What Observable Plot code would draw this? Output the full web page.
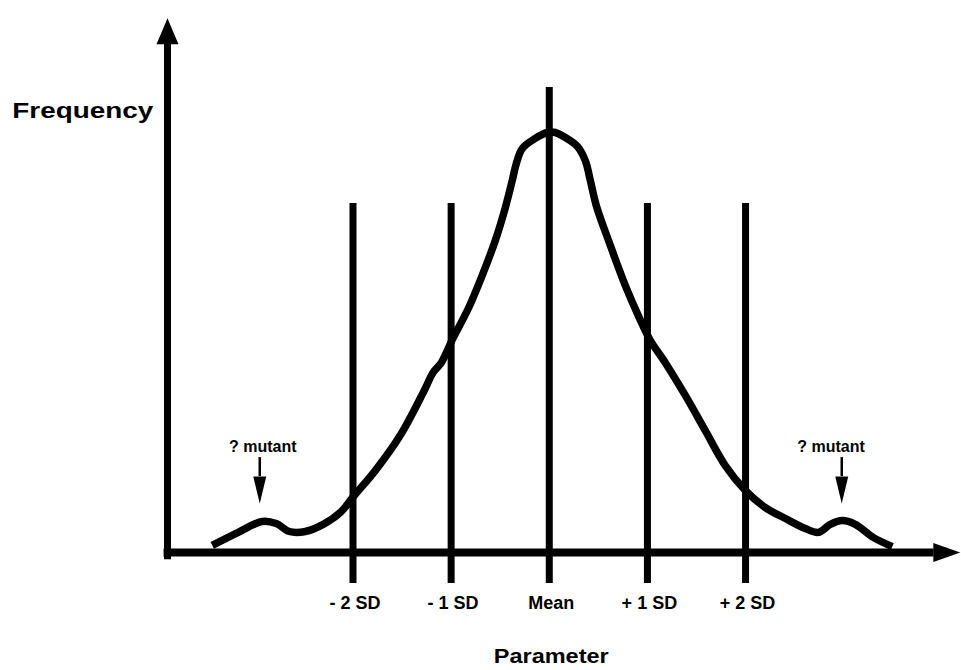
<!DOCTYPE html>
<html>
<head>
<meta charset="utf-8">
<script src="https://cdn.jsdelivr.net/npm/d3@7"></script>
<script src="https://cdn.jsdelivr.net/npm/@observablehq/plot@0.6"></script>
<style>
  html, body { margin: 0; padding: 0; background: #fff; }
  svg { display: block; }
</style>
</head>
<body>
<div id="chart"></div>
<script>
// ---- data ----
const sdPositions = [-2, -1, 0, 1, 2];
const sdLabels = ["- 2 SD", "- 1 SD", "Mean", "+ 1 SD", "+ 2 SD"];
const sdLineTops = [0.831, 0.831, 1.107, 0.831, 0.831];

const curveX = [-3.434, -3.169, -2.924, -2.782, -2.649, -2.486, -2.303, -2.130, -1.997, -1.773,
  -1.518, -1.284, -1.182, -1.100, -0.988, -0.825, -0.683, -0.550, -0.448, -0.377,
  -0.336, -0.275, -0.143, -0.020, 0.061, 0.163, 0.285, 0.367, 0.418, 0.479,
  0.622, 0.774, 0.907, 1.029, 1.182, 1.386, 1.590, 1.793, 1.997, 2.201,
  2.405, 2.609, 2.741, 2.864, 2.986, 3.118, 3.301, 3.495];
const curveY = [0.017, 0.048, 0.074, 0.069, 0.050, 0.050, 0.067, 0.095, 0.133, 0.195,
  0.279, 0.381, 0.429, 0.452, 0.507, 0.581, 0.660, 0.743, 0.821, 0.886,
  0.926, 0.962, 0.986, 1.000, 1.000, 0.988, 0.967, 0.933, 0.886, 0.826,
  0.731, 0.636, 0.564, 0.505, 0.452, 0.374, 0.290, 0.207, 0.148, 0.107,
  0.081, 0.057, 0.048, 0.067, 0.076, 0.067, 0.036, 0.014];

const mutantX = [-2.95, 2.98];
const mutantLabelX = [-2.92, 2.87];
const mutantLabel = "? mutant";

const xAxisLabel = "Parameter";
const yAxisLabel = "Frequency";

// ---- geometry in scale units ----
const xMin = -3.89, xMax = 4.19;
const curve = curveX.map((x, i) => ({x, y: curveY[i]}));

// custom arrowhead symbols
const bigUp = {draw(ctx) { ctx.moveTo(0, -26); ctx.lineTo(11, 0); ctx.lineTo(-11, 0); ctx.closePath(); }};
const bigRight = {draw(ctx) { ctx.moveTo(0, -27); ctx.lineTo(9.5, 0); ctx.lineTo(-9.5, 0); ctx.closePath(); }};
const smallHead = {draw(ctx) { ctx.moveTo(0, -27); ctx.lineTo(6.5, 0); ctx.lineTo(-6.5, 0); ctx.closePath(); }};

const font = "'Liberation Sans', Arial, Helvetica, sans-serif";

const chart = Plot.plot({
  width: 961,
  height: 670,
  margin: 0,
  x: {domain: [xMin, xMax], range: [167, 960], axis: null},
  y: {domain: [0, 1], range: [552, 132], axis: null},
  style: {background: "#fff", fontFamily: font},
  marks: [
    // SD lines
    Plot.ruleX(sdPositions, {x: d => d, y1: -0.074, y2: (d, i) => sdLineTops[i], stroke: "#000", strokeWidth: 7}),
    // axes
    Plot.ruleX([xMin], {y1: -0.017, y2: 1.215, stroke: "#000", strokeWidth: 7}),
    Plot.ruleY([0], {x1: -3.925, x2: 3.92, stroke: "#000", strokeWidth: 8}),
    Plot.dot([{x: xMin, y: 1.21}], {x: "x", y: "y", symbol: bigUp, fill: "#000", stroke: null, r: 10}),
    Plot.dot([{x: 3.913, y: 0}], {x: "x", y: "y", symbol: bigRight, rotate: 90, fill: "#000", stroke: null, r: 10}),
    // curve
    Plot.line(curve, {x: "x", y: "y", curve: "catmull-rom", stroke: "#000", strokeWidth: 7.5, strokeLinejoin: "round", strokeLinecap: "butt"}),
    // mutant arrows
    Plot.ruleX(mutantX, {x: d => d, y1: 0.181, y2: 0.226, stroke: "#000", strokeWidth: 2.5}),
    Plot.dot(mutantX, {x: d => d, y: 0.181, symbol: smallHead, rotate: 180, fill: "#000", stroke: null, r: 6}),
    Plot.text(mutantLabelX, {x: d => d, y: 0.252, text: () => mutantLabel, fontSize: 16, fontWeight: "bold", fill: "#000"}),
    // SD labels
    Plot.text(sdPositions, {x: d => d + 0.02, y: -0.12, text: (d, i) => sdLabels[i], fontSize: 18, fontWeight: "bold", fill: "#000"}),
    // axis titles
    Plot.text([yAxisLabel], {x: -4.035, y: 1.051, text: d => d, textAnchor: "end", fontSize: 22, fontWeight: "bold", fill: "#000"}),
    Plot.text([xAxisLabel], {x: 0.02, y: -0.246, text: d => d, fontSize: 21, fontWeight: "bold", fill: "#000"})
  ]
});

// stretch the wide title glyphs to their measured widths
const widths = {"Frequency": 141, "Parameter": 115};
chart.querySelectorAll("text").forEach(t => {
  const w = widths[t.textContent];
  if (w) { t.setAttribute("textLength", w); t.setAttribute("lengthAdjust", "spacingAndGlyphs"); }
});

document.getElementById("chart").appendChild(chart);
</script>
</body>
</html>
